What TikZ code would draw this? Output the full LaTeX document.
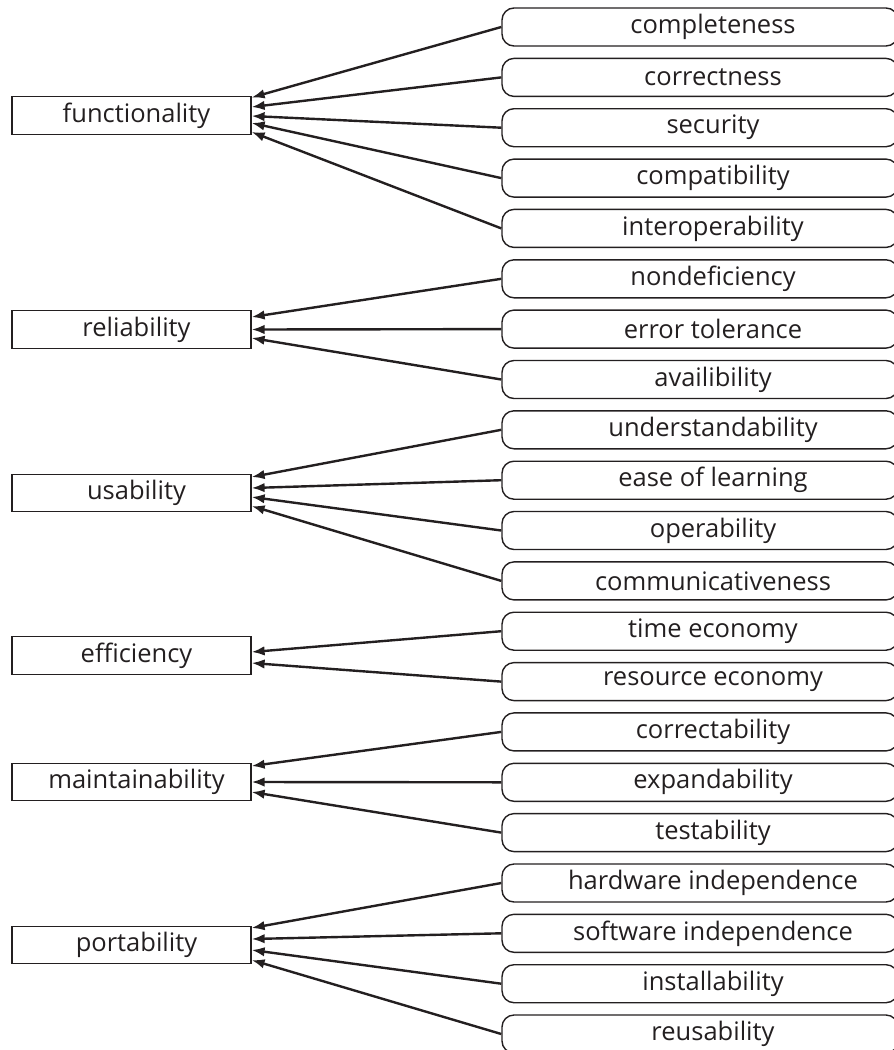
\documentclass[tikz,border=0pt]{standalone}
\usepackage{fontspec}
\setmainfont{Open Sans}
\usetikzlibrary{arrows.meta}
\definecolor{ink}{HTML}{231F20}
\begin{document}
\begin{tikzpicture}[x=1pt,y=1pt,
  every node/.style={font=\fontsize{25.5}{30}\selectfont, text=ink},
  cat/.style={draw=ink, line width=1.2pt, rectangle, minimum width=239pt, minimum height=37.5pt, inner sep=0pt, execute at begin node={\hspace*{10pt}}},
  sub/.style={draw=ink, line width=1.4pt, rounded corners=12pt, minimum width=396pt, minimum height=38pt, inner sep=0pt, execute at begin node={\hspace*{26pt}}},
  link/.style={draw=ink, line width=2.4pt, -{Latex[length=13pt,width=9.5pt]}}]
\useasboundingbox (0,0) rectangle (894,-1050);
\clip (0,0) rectangle (894,-1050);
% categories
\node[cat] (fun) at (131.5,-115.5) {functionality};
\node[cat] (rel) at (131.5,-329.5) {reliability};
\node[cat] (usa) at (131.5,-493) {usability};
\node[cat] (eff) at (131.5,-655.5) {efficiency};
\node[cat] (mai) at (131.5,-782) {maintainability};
\node[cat] (por) at (131.5,-945) {portability};
% sub-characteristics
\node[sub] (s0)  at (700,-27)    {completeness};
\node[sub] (s1)  at (700,-77.4)  {correctness};
\node[sub] (s2)  at (700,-127.7) {security};
\node[sub] (s3)  at (700,-178.1) {compatibility};
\node[sub] (s4)  at (700,-228.4) {interoperability};
\node[sub] (s5)  at (700,-278.8) {nondeficiency};
\node[sub] (s6)  at (700,-329.1) {error tolerance};
\node[sub] (s7)  at (700,-379.5) {availibility};
\node[sub] (s8)  at (700,-429.8) {understandability};
\node[sub] (s9)  at (700,-480.2) {ease of learning};
\node[sub] (s10) at (700,-530.5) {operability};
\node[sub] (s11) at (700,-580.9) {communicativeness};
\node[sub] (s12) at (700,-631.2) {time economy};
\node[sub] (s13) at (700,-681.6) {resource economy};
\node[sub] (s14) at (700,-731.9) {correctability};
\node[sub] (s15) at (700,-782.3) {expandability};
\node[sub] (s16) at (700,-832.6) {testability};
\node[sub] (s17) at (700,-883)   {hardware independence};
\node[sub] (s18) at (700,-933.3) {software independence};
\node[sub] (s19) at (700,-983.7) {installability};
\node[sub] (s20) at (700,-1034)  {reusability};
% connectors
\draw[link] (s0.west) -- ([yshift=18pt]fun.east);
\draw[link] (s1.west) -- ([yshift=8.5pt]fun.east);
\draw[link] (s2.west) -- ([yshift=-0.5pt]fun.east);
\draw[link] (s3.west) -- ([yshift=-7.5pt]fun.east);
\draw[link] (s4.west) -- ([yshift=-16.5pt]fun.east);
\draw[link] (s5.west) -- ([yshift=12.5pt]rel.east);
\draw[link] (s6.west) -- ([yshift=0pt]rel.east);
\draw[link] (s7.west) -- ([yshift=-8.5pt]rel.east);
\draw[link] (s8.west) -- ([yshift=16pt]usa.east);
\draw[link] (s9.west) -- ([yshift=5pt]usa.east);
\draw[link] (s10.west) -- ([yshift=-4pt]usa.east);
\draw[link] (s11.west) -- ([yshift=-13pt]usa.east);
\draw[link] (s12.west) -- ([yshift=3.5pt]eff.east);
\draw[link] (s13.west) -- ([yshift=-7.5pt]eff.east);
\draw[link] (s14.west) -- ([yshift=16pt]mai.east);
\draw[link] (s15.west) -- ([yshift=0pt]mai.east);
\draw[link] (s16.west) -- ([yshift=-10pt]mai.east);
\draw[link] (s17.west) -- ([yshift=17pt]por.east);
\draw[link] (s18.west) -- ([yshift=6pt]por.east);
\draw[link] (s19.west) -- ([yshift=-5pt]por.east);
\draw[link] (s20.west) -- ([yshift=-15pt]por.east);
\end{tikzpicture}
\end{document}
